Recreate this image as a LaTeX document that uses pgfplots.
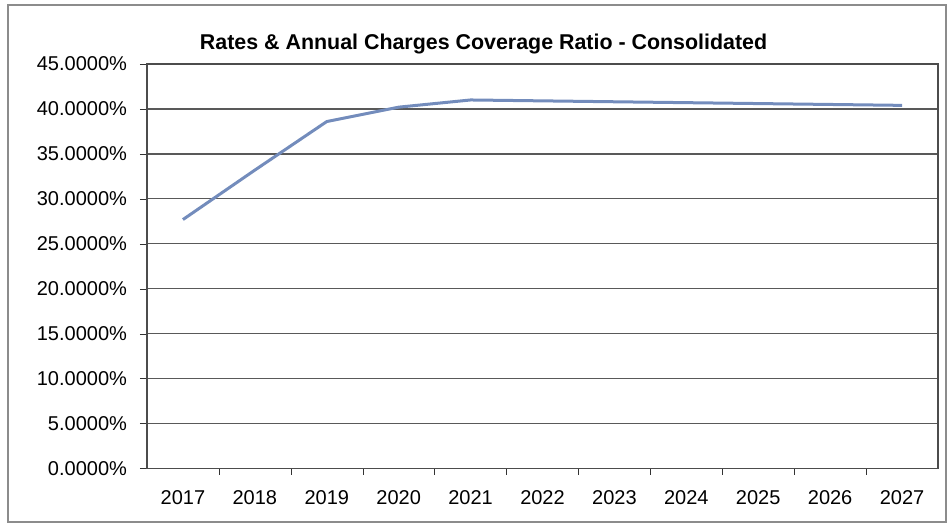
\documentclass[border=0pt]{standalone}
\usepackage{pgfplots}
\pgfplotsset{compat=1.18}
\usepackage{fontspec}
\setmainfont{Liberation Sans}
\definecolor{linecol}{RGB}{115,140,188}
\begin{document}
\begin{tikzpicture}
\path[use as bounding box] (0pt,0pt) rectangle (475pt,263.5pt);
\draw[black!45, line width=0.8pt] (4pt,2.5pt) rectangle (473pt,261pt);
\node[font=\bfseries\fontsize{10.7}{12}\selectfont, anchor=base] at (241.8pt,238.8pt) {Rates \& Annual Charges Coverage Ratio - Consolidated};
\begin{axis}[
  at={(73.5pt,29.2pt)}, anchor=south west,
  scale only axis, width=395.5pt, height=202.3pt,
  xmin=-0.5, xmax=10.5, ymin=0, ymax=45,
  xtick={0,1,2,3,4,5,6,7,8,9,10},
  xticklabels={2017,2018,2019,2020,2021,2022,2023,2024,2025,2026,2027},
  minor xtick={0.5,1.5,2.5,3.5,4.5,5.5,6.5,7.5,8.5,9.5},
  ytick={0,5,10,15,20,25,30,35,40,45},
  yticklabels={0.0000\%,5.0000\%,10.0000\%,15.0000\%,20.0000\%,25.0000\%,30.0000\%,35.0000\%,40.0000\%,45.0000\%},
  tick pos=left, tick align=outside,
  major tick length=3.5pt, minor tick length=3pt,
  major x tick style={draw=none},
  minor x tick style={black!80},
  y tick style={black!80},
  ymajorgrids, grid style={black!65, line width=0.6pt},
  axis line style={black!70, line width=0.8pt},
  ticklabel style={font=\fontsize{10}{12}\selectfont},
  xticklabel style={yshift=-4pt},
  yticklabel style={xshift=-3pt},
]
\addplot[color=linecol, line width=1.5pt] coordinates {
(0,27.7) (1,33.2) (2,38.6) (3,40.2) (4,41.0) (5,40.9) (6,40.8) (7,40.7) (8,40.6) (9,40.5) (10,40.4)
};
\end{axis}
\end{tikzpicture}
\end{document}
